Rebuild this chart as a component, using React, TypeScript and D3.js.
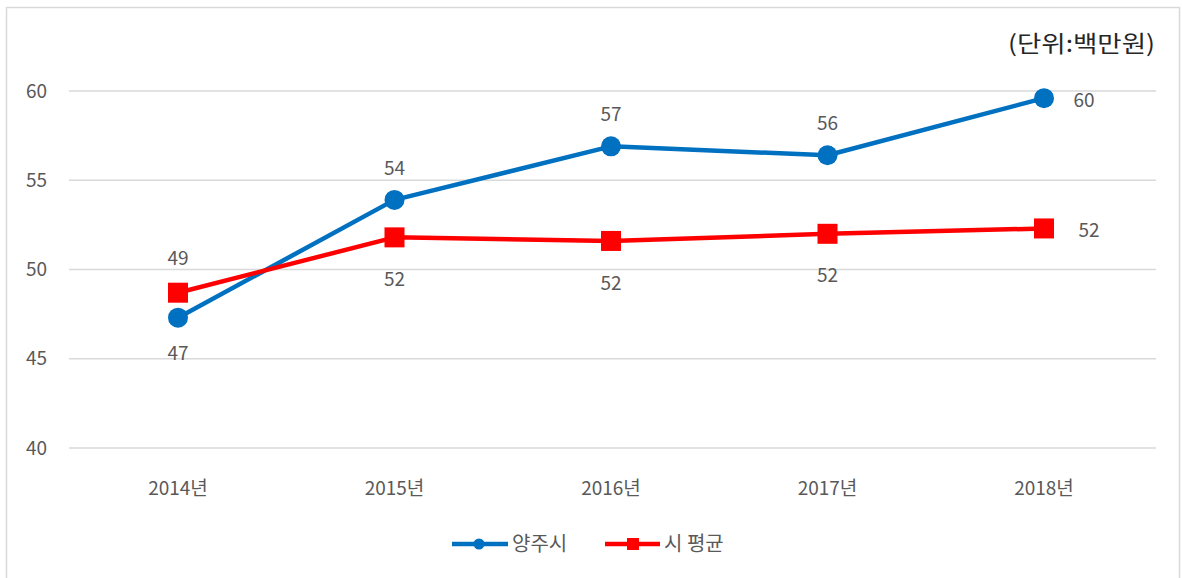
import React from "react";
import * as d3 from "d3";

const years = ["2014년", "2015년", "2016년", "2017년", "2018년"];
const yangju = [47.3, 53.9, 56.9, 56.4, 59.6];
const cityAvg = [48.7, 51.8, 51.6, 52.0, 52.3];
const yangjuLabels = ["47", "54", "57", "56", "60"];
const cityLabels = ["49", "52", "52", "52", "52"];
const yTicks = [40, 45, 50, 55, 60];

const W = 1182;
const H = 578;
const FONT = "'Malgun Gothic','Noto Sans CJK KR','Noto Sans',sans-serif";

export default function App() {
  const x = d3.scalePoint<string>().domain(years).range([178, 1044]);
  const y = d3.scaleLinear().domain([40, 60]).range([448, 91]);
  const line = d3
    .line<number>()
    .x((_, i) => x(years[i]) as number)
    .y((d) => y(d));

  const blue = "#0070C0";
  const red = "#FF0000";
  const txt = "#595959";

  const blueOff = (i: number) =>
    i === 0 ? [0, 36] : i === 4 ? [40, 2] : [0, -32];
  const redOff = (i: number) =>
    i === 0 ? [0, -34] : i === 4 ? [45, 2] : [0, 42];

  return (
    <svg
      width={W}
      height={H}
      style={{ position: "absolute", left: 0, top: 0, background: "#fff" }}
      fontFamily={FONT}
    >
      <rect x={6.5} y={7.5} width={1173} height={580} fill="#fff" stroke="#d9d9d9" strokeWidth={1.5} />
      {yTicks.map((t) => (
        <g key={t}>
          <line x1={69} x2={1156} y1={y(t)} y2={y(t)} stroke="#d9d9d9" strokeWidth={1.5} />
          <text x={47} y={y(t)} dy="0.35em" textAnchor="end" fontSize={19} fill={txt}>
            {t}
          </text>
        </g>
      ))}
      {years.map((yr) => (
        <text key={yr} x={x(yr)} y={488} dy="0.35em" textAnchor="middle" fontSize={19} fill={txt}>
          {yr}
        </text>
      ))}
      <text x={1155} y={44} dy="0.35em" textAnchor="end" fontSize={23} fill="#262626" textLength={147} lengthAdjust="spacingAndGlyphs">
        (단위:백만원)
      </text>

      <path d={line(yangju) || ""} fill="none" stroke={blue} strokeWidth={4.5} strokeLinejoin="round" />
      <path d={line(cityAvg) || ""} fill="none" stroke={red} strokeWidth={4.5} strokeLinejoin="round" />

      {yangju.map((v, i) => (
        <circle key={"b" + i} cx={x(years[i])} cy={y(v)} r={10} fill={blue} />
      ))}
      {cityAvg.map((v, i) => (
        <rect key={"r" + i} x={(x(years[i]) as number) - 10} y={y(v) - 10} width={20} height={20} fill={red} />
      ))}

      {yangju.map((v, i) => {
        const [dx, dy] = blueOff(i);
        return (
          <text key={"bl" + i} x={(x(years[i]) as number) + dx} y={y(v) + dy} dy="0.35em" textAnchor="middle" fontSize={19} fill={txt}>
            {yangjuLabels[i]}
          </text>
        );
      })}
      {cityAvg.map((v, i) => {
        const [dx, dy] = redOff(i);
        return (
          <text key={"rl" + i} x={(x(years[i]) as number) + dx} y={y(v) + dy} dy="0.35em" textAnchor="middle" fontSize={19} fill={txt}>
            {cityLabels[i]}
          </text>
        );
      })}

      <g>
        <line x1={452} x2={508} y1={544} y2={544} stroke={blue} strokeWidth={4.5} />
        <circle cx={479} cy={544} r={5.5} fill={blue} />
        <text x={512} y={544} dy="0.35em" fontSize={20} fill={txt}>
          양주시
        </text>
        <line x1={605} x2={660} y1={544} y2={544} stroke={red} strokeWidth={4.5} />
        <rect x={627} y={538} width={12} height={12} fill={red} />
        <text x={664} y={544} dy="0.35em" fontSize={20} fill={txt}>
          시 평균
        </text>
      </g>
    </svg>
  );
}
